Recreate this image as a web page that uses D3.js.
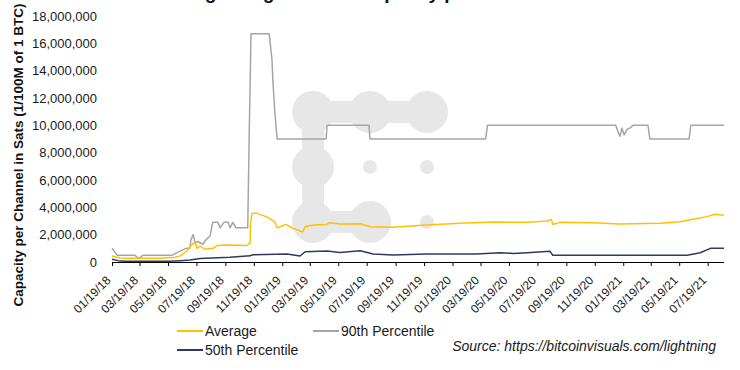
<!DOCTYPE html>
<html>
<head>
<meta charset="utf-8">
<script src="https://cdn.jsdelivr.net/npm/d3@7"></script>
<style>
  html, body { margin: 0; padding: 0; background: #fff; }
  svg { display: block; font-family: 'Liberation Sans', Arial, sans-serif; }
</style>
</head>
<body>
<svg id="chart"></svg>
<script>
// values in millions of sats
var avgSeries = [
	['2018-01-19', 0.44], ['2018-02-05', 0.30], ['2018-02-27', 0.27], ['2018-05-02', 0.27],
	['2018-06-03', 0.35], ['2018-06-14', 0.45], ['2018-06-27', 0.75], ['2018-07-05', 1.10],
	['2018-07-16', 1.50], ['2018-07-20', 1.00], ['2018-07-27', 1.17], ['2018-08-06', 0.93],
	['2018-08-24', 1.00], ['2018-09-01', 1.20], ['2018-09-23', 1.24], ['2018-11-04', 1.20],
	['2018-11-11', 1.40], ['2018-11-12', 2.80], ['2018-11-15', 3.56], ['2018-11-26', 3.56],
	['2018-12-17', 3.30], ['2019-01-03', 2.95], ['2019-01-08', 2.50], ['2019-01-14', 2.58],
	['2019-01-27', 2.75], ['2019-02-11', 2.46], ['2019-03-04', 2.20], ['2019-03-09', 2.60],
	['2019-03-26', 2.70], ['2019-04-25', 2.75], ['2019-05-01', 2.88], ['2019-05-23', 2.78],
	['2019-07-05', 2.80], ['2019-07-26', 2.58], ['2019-09-13', 2.54], ['2019-11-25', 2.70],
	['2020-02-04', 2.83], ['2020-04-15', 2.93], ['2020-06-27', 2.90], ['2020-08-09', 3.00],
	['2020-08-18', 3.12], ['2020-08-21', 2.75], ['2020-09-05', 2.90], ['2020-11-15', 2.88],
	['2021-01-12', 2.78], ['2021-04-08', 2.83], ['2021-05-21', 2.95], ['2021-06-18', 3.12],
	['2021-07-18', 3.32], ['2021-08-04', 3.49], ['2021-08-23', 3.42]
];

var p90Series = [
	['2018-01-19', 1.0], ['2018-01-30', 0.5], ['2018-03-09', 0.5], ['2018-03-14', 0.35],
	['2018-03-20', 0.3], ['2018-03-26', 0.5], ['2018-05-28', 0.5], ['2018-06-14', 0.8],
	['2018-06-27', 1.0], ['2018-07-05', 1.0], ['2018-07-07', 1.6], ['2018-07-12', 2.0],
	['2018-07-16', 1.4], ['2018-07-22', 1.5], ['2018-08-02', 1.3], ['2018-08-08', 1.6],
	['2018-08-17', 1.9], ['2018-08-23', 2.9], ['2018-09-03', 2.9], ['2018-09-08', 2.5],
	['2018-09-16', 2.9], ['2018-09-25', 2.9], ['2018-09-29', 2.5], ['2018-10-05', 2.9],
	['2018-10-12', 2.5], ['2018-11-06', 2.5], ['2018-11-09', 9.0], ['2018-11-13', 16.7],
	['2018-12-22', 16.7], ['2018-12-28', 14.8], ['2018-12-30', 13.2], ['2019-01-03', 11.0],
	['2019-01-08', 9.0], ['2019-04-23', 9.0], ['2019-04-25', 10.0], ['2019-07-24', 10.0],
	['2019-07-26', 9.0], ['2020-03-30', 9.0], ['2020-04-03', 10.0], ['2021-01-03', 10.0],
	['2021-01-08', 9.5], ['2021-01-12', 9.2], ['2021-01-16', 9.8], ['2021-01-21', 9.3],
	['2021-01-27', 9.7], ['2021-02-02', 9.8], ['2021-02-09', 10.0], ['2021-03-13', 10.0],
	['2021-03-17', 9.0], ['2021-06-09', 9.0], ['2021-06-13', 10.0], ['2021-08-23', 10.0]
];

var p50Series = [
	['2018-01-19', 0.20], ['2018-02-01', 0.10], ['2018-02-16', 0.05], ['2018-05-23', 0.05],
	['2018-06-14', 0.10], ['2018-07-05', 0.15], ['2018-07-27', 0.25], ['2018-09-29', 0.35],
	['2018-11-11', 0.45], ['2018-11-17', 0.53], ['2019-01-29', 0.58], ['2019-02-26', 0.44],
	['2019-03-09', 0.75], ['2019-04-25', 0.80], ['2019-05-23', 0.70], ['2019-07-05', 0.83],
	['2019-08-02', 0.58], ['2019-09-13', 0.51], ['2019-11-25', 0.58], ['2020-03-10', 0.58],
	['2020-04-30', 0.68], ['2020-05-28', 0.63], ['2020-06-27', 0.68], ['2020-08-15', 0.78],
	['2020-08-21', 0.49], ['2021-06-05', 0.49], ['2021-07-03', 0.68], ['2021-07-25', 1.00],
	['2021-08-23', 1.00]
];

var xTickLabels = ['01/19/18', '03/19/18', '05/19/18', '07/19/18', '09/19/18', '11/19/18',
	'01/19/19', '03/19/19', '05/19/19', '07/19/19', '09/19/19', '11/19/19',
	'01/19/20', '03/19/20', '05/19/20', '07/19/20', '09/19/20', '11/19/20',
	'01/19/21', '03/19/21', '05/19/21', '07/19/21'];

var yTicks = [0, 2, 4, 6, 8, 10, 12, 14, 16, 18];

var seriesNames = ['Average', '90th Percentile', '50th Percentile'];
var seriesColors = ['#FFC000', '#A5A5A5', '#2E3A5E'];

var width = 740;
var height = 370;
var parseDay = d3.utcParse('%Y-%m-%d');
var parseTick = d3.utcParse('%m/%d/%y');

var svg = d3.select('#chart')
	.attr('width', width)
	.attr('height', height);

var x = d3.scaleUtc()
	.domain([parseDay('2018-01-19'), parseDay('2021-08-23')])
	.range([112, 724]);

var y = d3.scaleLinear()
	.domain([0, 18e6])
	.range([262, 16]);

/****************************
 * title (cut off at the top, as in the source picture)
 ****************************/
svg.append('text')
	.attr('x', 371)
	.attr('y', -1.5)
	.attr('text-anchor', 'middle')
	.style('font-size', '19px')
	.style('font-weight', 'bold')
	.attr('fill', '#111')
	.text('Lightning Network Capacity per Channel');

/****************************
 * watermark logo
 ****************************/
var logo = svg.append('g').attr('fill', '#E7E7E7').attr('stroke', '#E7E7E7');
[[313, 112, 370, 112], [370, 112, 427, 112], [313, 112, 313, 222], [313, 222, 370, 222]].forEach(function(s) {
	logo.append('line')
		.attr('x1', s[0]).attr('y1', s[1])
		.attr('x2', s[2]).attr('y2', s[3])
		.attr('stroke-width', 22);
});
[[313, 112, 21], [370, 112, 21], [427, 112, 21], [313, 167, 21], [313, 222, 21], [370, 222, 21],
	[370, 167, 7], [427, 167, 7], [427, 222, 7]].forEach(function(c) {
	logo.append('circle')
		.attr('cx', c[0]).attr('cy', c[1]).attr('r', c[2])
		.attr('stroke', 'none');
});

/****************************
 * axes
 ****************************/
var yAxis = d3.axisLeft(y)
	.tickValues(yTicks.map(function(d) { return d * 1e6; }))
	.tickSize(0)
	.tickPadding(0)
	.tickFormat(d3.format(','));

var gy = svg.append('g')
	.attr('transform', 'translate(97,0)')
	.call(yAxis);
gy.select('.domain').remove();
gy.selectAll('text')
	.attr('fill', '#1a1a1a')
	.style('font-size', '13px')
	.style('font-family', "'Liberation Sans', Arial, sans-serif");

var xAxis = d3.axisBottom(x)
	.tickValues(xTickLabels.map(function(d) { return parseTick(d); }))
	.tickSize(4)
	.tickFormat(d3.utcFormat('%m/%d/%y'));

var gx = svg.append('g')
	.attr('transform', 'translate(0,262)')
	.call(xAxis);
gx.select('.domain')
	.attr('d', 'M112,0.5H724')
	.attr('stroke', '#000');
gx.selectAll('.tick line').attr('stroke', '#000');
gx.selectAll('text')
	.attr('fill', '#1a1a1a')
	.style('font-size', '12px')
	.style('font-family', "'Liberation Sans', Arial, sans-serif")
	.attr('text-anchor', 'end')
	.attr('y', 0)
	.attr('dy', '0.35em')
	.attr('transform', 'translate(-4,16) rotate(-45)');

svg.append('text')
	.attr('transform', 'translate(23,155) rotate(-90)')
	.attr('text-anchor', 'middle')
	.style('font-size', '13.5px')
	.style('font-weight', 'bold')
	.attr('fill', '#111')
	.text('Capacity per Channel in Sats (1/100M of 1 BTC)');

/****************************
 * lines
 ****************************/
var line = d3.line()
	.x(function(d) { return x(parseDay(d[0])); })
	.y(function(d) { return y(d[1] * 1e6); });

[p90Series, avgSeries, p50Series].forEach(function(s, i) {
	var color = [seriesColors[1], seriesColors[0], seriesColors[2]][i];
	svg.append('path')
		.datum(s)
		.attr('fill', 'none')
		.attr('stroke', color)
		.attr('stroke-width', 1.5)
		.attr('stroke-linejoin', 'round')
		.attr('d', line);
});

/****************************
 * legend + source
 ****************************/
var legendPos = [[177, 331], [313, 331], [177, 350]];
var legend = svg.selectAll('.legend')
	.data(seriesNames)
	.enter().append('g')
	.attr('class', 'legend')
	.attr('transform', function(d, i) { return 'translate(' + legendPos[i][0] + ',' + legendPos[i][1] + ')'; });

legend.append('line')
	.attr('x1', 0).attr('x2', 26)
	.attr('stroke', function(d, i) { return seriesColors[i]; })
	.attr('stroke-width', 2);

legend.append('text')
	.attr('x', 28)
	.attr('dy', '0.35em')
	.style('font-size', '14px')
	.attr('fill', '#1a1a1a')
	.text(function(d) { return d; });

svg.append('text')
	.attr('x', 716)
	.attr('y', 346)
	.attr('dy', '0.35em')
	.attr('text-anchor', 'end')
	.style('font-size', '14px')
	.style('font-style', 'italic')
	.attr('fill', '#1a1a1a')
	.text('Source: https://bitcoinvisuals.com/lightning');
</script>
</body>
</html>
